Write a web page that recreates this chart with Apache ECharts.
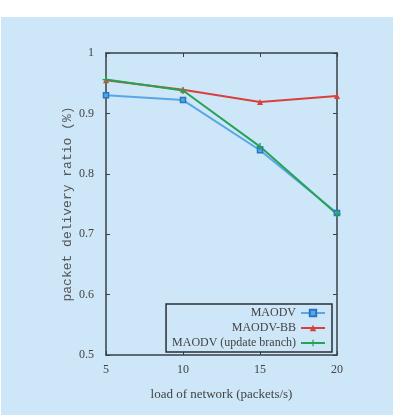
<!DOCTYPE html>
<html>
<head>
<meta charset="utf-8">
<script src="https://cdn.jsdelivr.net/npm/echarts@6/dist/echarts.min.js"></script>
<style>
  html, body { margin: 0; padding: 0; background: #fff; }
  #chart { width: 397px; height: 415px; }
</style>
</head>
<body>
<div id="chart"></div>
<script>
const loads = [5, 10, 15, 20];
const maodv = [0.930, 0.922, 0.839, 0.735];
const maodvBB = [0.955, 0.939, 0.919, 0.929];
const maodvUpdate = [0.956, 0.938, 0.845, 0.733];
const seriesNames = ['MAODV', 'MAODV-BB', 'MAODV (update branch)'];

const pairs = (ys) => loads.map((x, i) => [x, ys[i]]);

const plusPath = 'path://M4,0L6,0L6,4L10,4L10,6L6,6L6,10L4,10L4,6L0,6L0,4L4,4Z';

const chart = echarts.init(document.getElementById('chart'));

const serif = 'Liberation Serif';
const axisColor = '#3a3f44';

const option = {
  animation: false,
  backgroundColor: '#ffffff',
  graphic: [
    {
      type: 'rect',
      z: -10,
      shape: { x: 1, y: 17, width: 392, height: 398 },
      style: { fill: '#cde6f8' },
      silent: true
    }
  ],
  grid: { left: 106, right: 60, top: 53, bottom: 60 },
  legend: {
    orient: 'vertical',
    right: 65,
    bottom: 63,
    align: 'right',
    itemWidth: 24,
    itemHeight: 8,
    itemGap: 3,
    padding: [3, 6, 3, 6],
    borderColor: '#2a2f35',
    borderWidth: 1.5,
    backgroundColor: '#cde6f8',
    textStyle: { fontFamily: serif, fontSize: 12, color: '#444' },
    data: seriesNames
  },
  xAxis: [
    {
      type: 'value',
      min: 5,
      max: 20,
      interval: 5,
      name: 'load of network (packets/s)',
      nameLocation: 'middle',
      nameGap: 33,
      nameTextStyle: { fontFamily: serif, fontSize: 13, color: '#444' },
      axisLine: { lineStyle: { color: axisColor, width: 1.5 } },
      axisTick: { inside: true, length: 4, lineStyle: { color: axisColor } },
      axisLabel: { fontFamily: serif, fontSize: 12, color: '#444', margin: 9 },
      splitLine: { show: false }
    },
    {
      type: 'value',
      position: 'top',
      min: 5,
      max: 20,
      interval: 5,
      axisLine: { lineStyle: { color: axisColor, width: 1.5 } },
      axisTick: { inside: true, length: 4, lineStyle: { color: axisColor } },
      axisLabel: { show: false },
      splitLine: { show: false }
    }
  ],
  yAxis: [
    {
      type: 'value',
      min: 0.5,
      max: 1,
      interval: 0.1,
      name: 'packet delivery ratio (%)',
      nameLocation: 'middle',
      nameGap: 32,
      nameMoveOverlap: false,
      nameRotate: 90,
      nameTextStyle: { fontFamily: 'Liberation Mono', fontSize: 13, color: '#555' },
      axisLine: { lineStyle: { color: axisColor, width: 1.5 } },
      axisTick: { inside: true, length: 4, lineStyle: { color: axisColor } },
      axisLabel: {
        fontFamily: serif, fontSize: 12, color: '#444', margin: 12,
        formatter: (v) => (v === 1 ? '1' : v.toFixed(1))
      },
      splitLine: { show: false }
    },
    {
      type: 'value',
      position: 'right',
      min: 0.5,
      max: 1,
      interval: 0.1,
      axisLine: { lineStyle: { color: axisColor, width: 1.5 } },
      axisTick: { inside: true, length: 4, lineStyle: { color: axisColor } },
      axisLabel: { show: false },
      splitLine: { show: false }
    }
  ],
  series: [
    {
      name: seriesNames[0],
      type: 'line',
      data: pairs(maodv),
      symbol: 'rect',
      symbolSize: 5,
      color: '#2a74c2',
      lineStyle: { width: 2 },
      itemStyle: { color: '#5aa6e6', borderColor: '#2a74c2', borderWidth: 1.5 }
    },
    {
      name: seriesNames[1],
      type: 'line',
      data: pairs(maodvBB),
      symbol: 'triangle',
      symbolSize: 6,
      color: '#d8403a',
      lineStyle: { width: 2 },
      itemStyle: { color: '#d8403a' }
    },
    {
      name: seriesNames[2],
      type: 'line',
      data: pairs(maodvUpdate),
      symbol: plusPath,
      symbolSize: 7,
      color: '#27a356',
      lineStyle: { width: 2 },
      itemStyle: { color: '#27a356' }
    }
  ]
};

chart.setOption(option);

window.addEventListener('resize', function () {
  chart.resize();
});
</script>
</body>
</html>
